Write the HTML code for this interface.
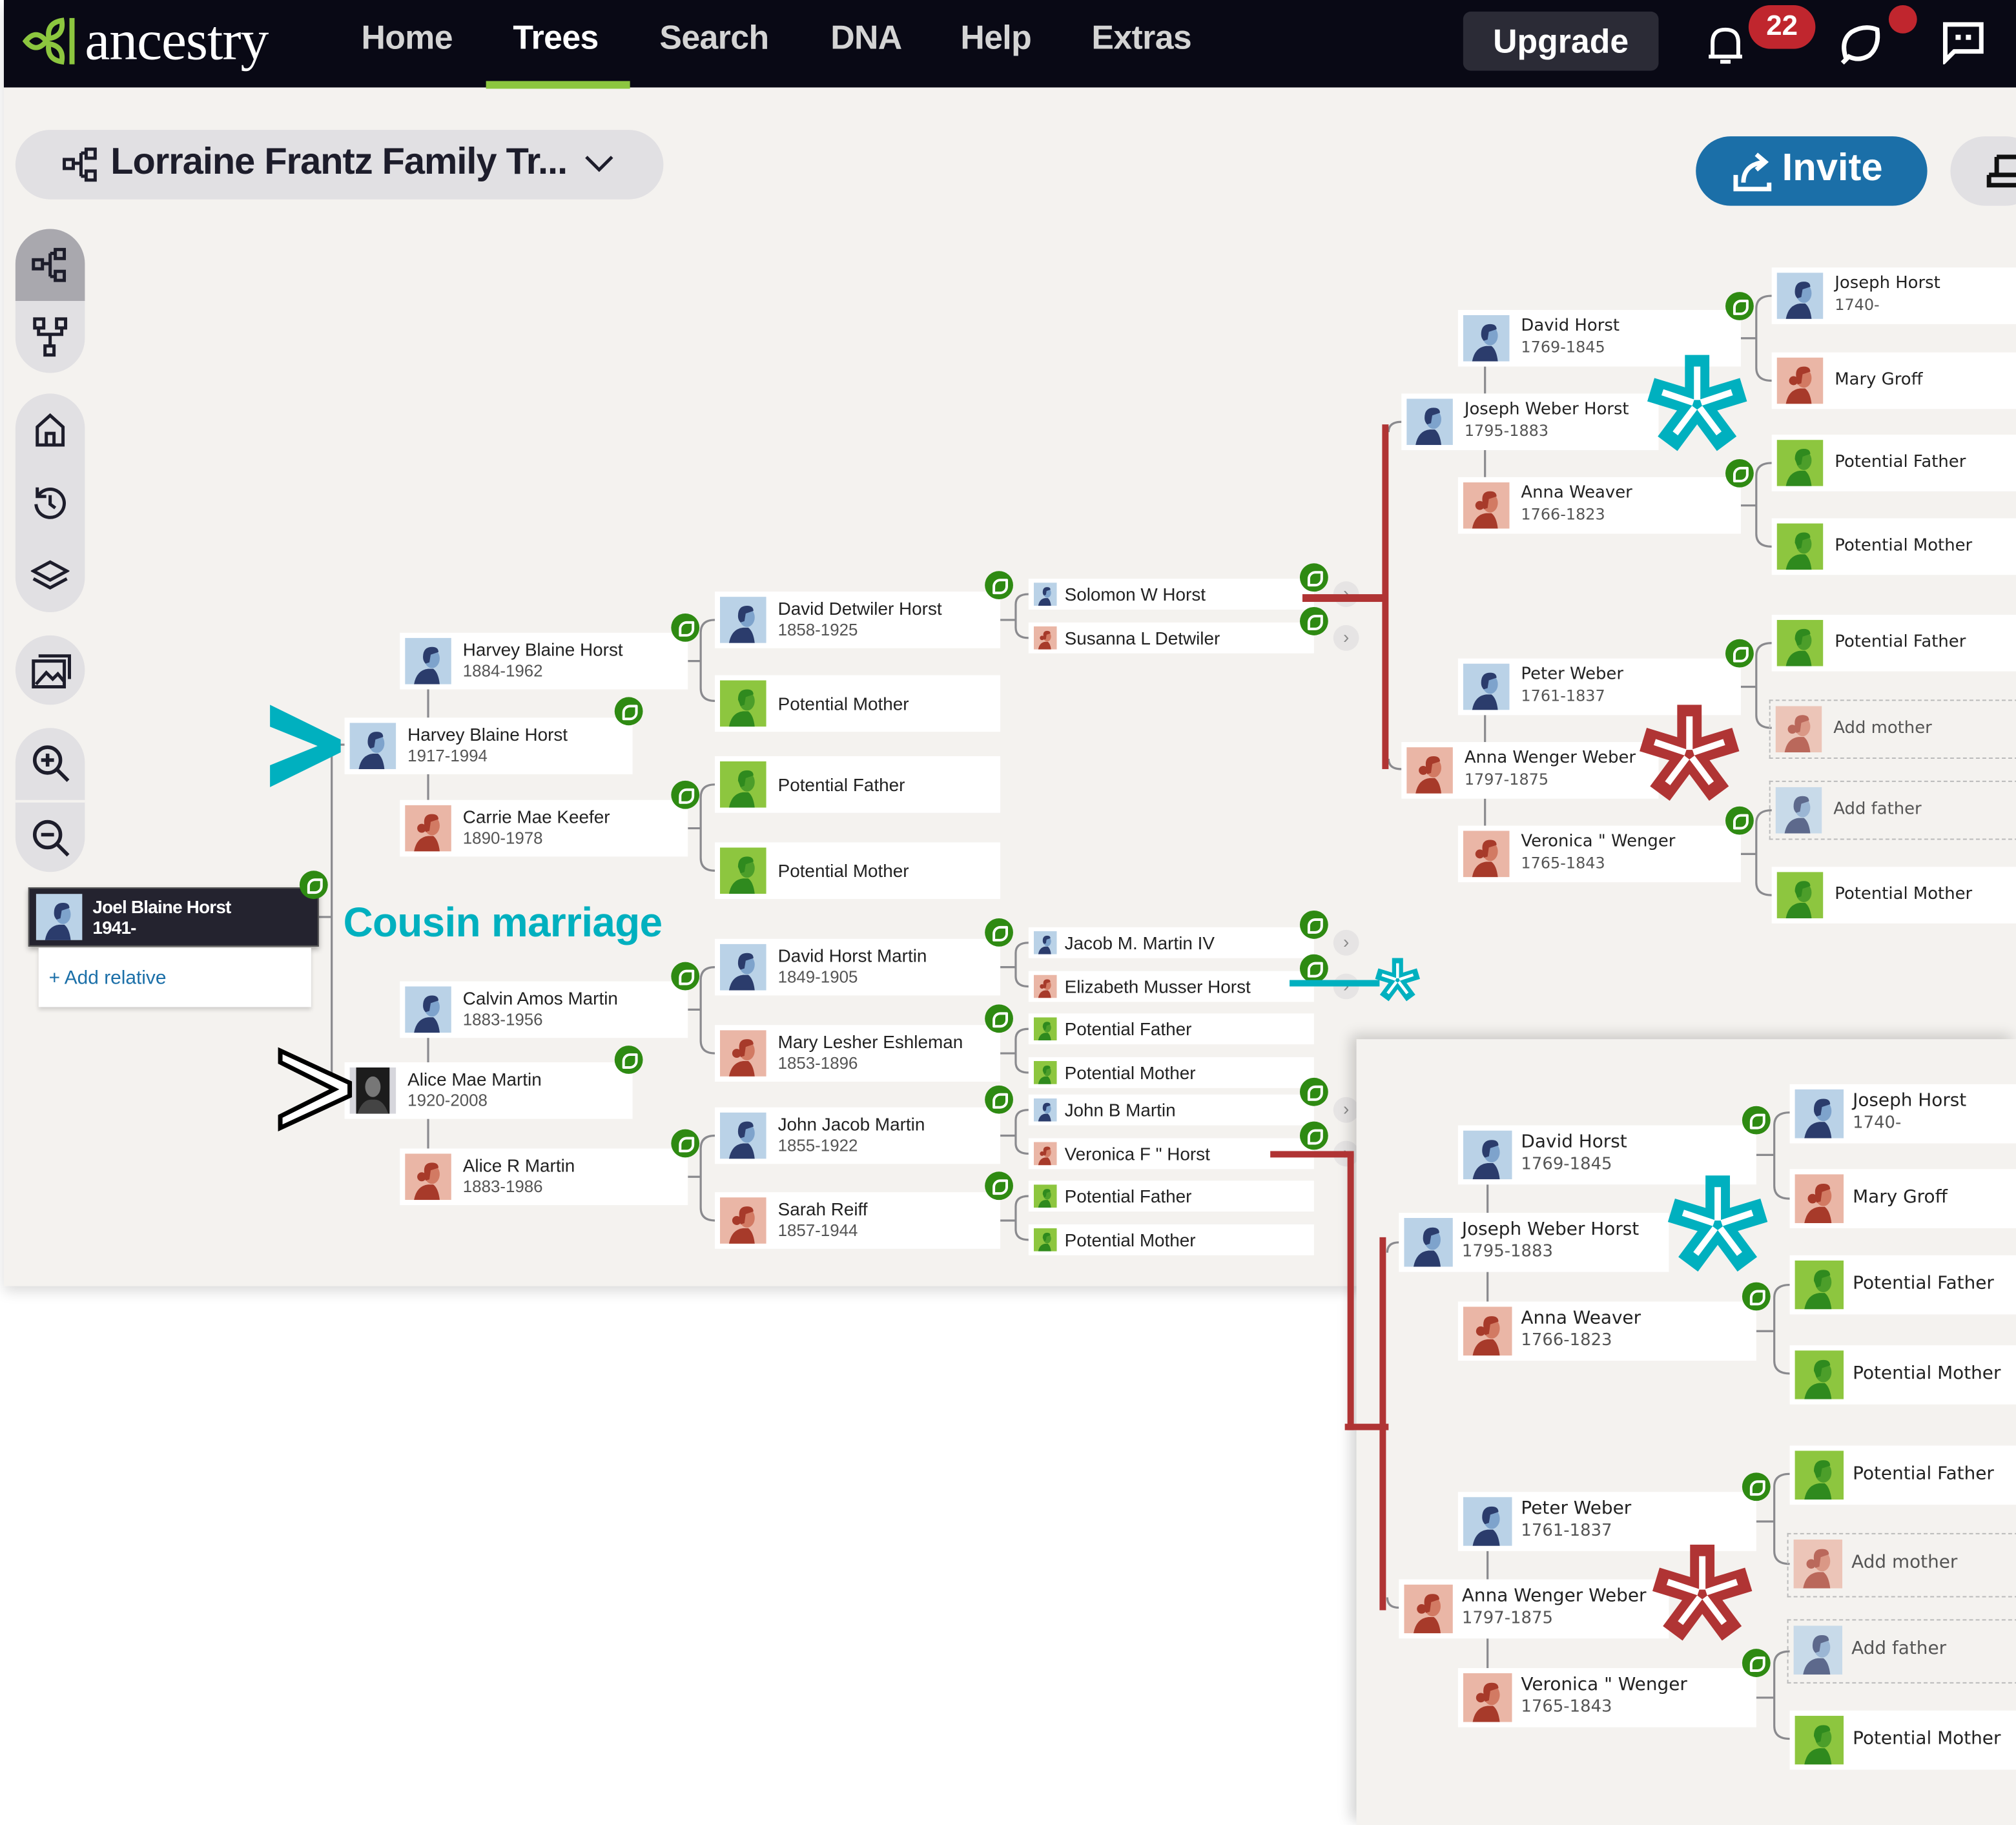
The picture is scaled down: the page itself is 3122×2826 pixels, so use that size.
<!DOCTYPE html>
<html><head><meta charset="utf-8"><style>
*{margin:0;padding:0;box-sizing:border-box}
html,body{width:3122px;height:2826px;overflow:hidden;background:#fff;font-family:"Liberation Sans",sans-serif}
#w{position:absolute;left:0;top:0;width:1568px;height:1419px;transform-origin:0 0;transform:scale(1.99107,1.99154)}
.a{position:absolute}
.n{position:absolute;background:#fff;height:44px;width:222px}
.n svg.av{position:absolute;left:4px;top:4px;width:36px;height:36px}
.n .t{position:absolute;left:49px;top:5px;font-size:14px;line-height:16px;color:#222;white-space:nowrap}
.n .t.one{top:14px}
.n .d{color:#555;font-size:13px}
.s{position:absolute;background:#fff;height:24px;width:222px}
.s svg.av{position:absolute;left:4px;top:3px;width:18px;height:18px}
.s .t{position:absolute;left:28px;top:4px;font-size:14px;line-height:16px;color:#222;white-space:nowrap}
.r .t{font-family:"DejaVu Sans",sans-serif;font-size:13px}
.r .d{font-size:12px}
.q .t{font-family:"DejaVu Sans",sans-serif;font-size:14px;line-height:17px}
.q .d{font-size:13px}
.dash{background:transparent;border:1.5px dashed #bbb}
.dash .t{color:#555}
.g{position:absolute;width:22px;height:22px;border-radius:50%;background:#2e8a12}
.g:after{content:"";position:absolute;left:6px;top:6px;width:8px;height:8px;border:2px solid #fff;border-radius:6px 1px 6px 1px}
.ch{position:absolute;width:20px;height:20px;border-radius:50%;background:#e6e4e4;color:#888;font-size:14px;text-align:center;line-height:19px}
.pill{position:absolute;background:#e1e0e3;border-radius:27px}
.nav{position:absolute;top:14px;font-size:26px;color:#d4d4d4;font-weight:bold;letter-spacing:-.3px}
</style></head><body>
<svg width="0" height="0" style="position:absolute">
<defs>
<symbol id="m" viewBox="0 0 36 36"><rect width="36" height="36" fill="#bad2e7"/><path d="M7 36 Q9 25 18 24 L22 24 Q26 27 27 36Z" fill="#2b3c6c"/><ellipse cx="21" cy="16" rx="6" ry="7.5" fill="#7ea3cc"/><path d="M14 15 Q14 7 21 7 Q26 7 26 11 L20 13 L19 19 L16 20 Q14 18 14 15Z" fill="#2b3c6c"/></symbol>
<symbol id="f" viewBox="0 0 36 36"><rect width="36" height="36" fill="#eab6a6"/><path d="M7 36 Q9 25 18 24 L22 24 Q26 27 27 36Z" fill="#a73a2a"/><ellipse cx="21" cy="16" rx="6" ry="7.5" fill="#d27a63"/><path d="M15 15 Q14 7 21 7 Q26 7 26 11 L20 13 L19 20 L16 21Z" fill="#a73a2a"/><circle cx="13" cy="18" r="3.5" fill="#a73a2a"/></symbol>
<symbol id="p" viewBox="0 0 36 36"><rect width="36" height="36" fill="#8dc63f"/><path d="M7 36 Q9 25 18 24 L22 24 Q26 27 27 36Z" fill="#2f8a1e"/><ellipse cx="21" cy="16" rx="6" ry="7.5" fill="#4c9e2a"/><path d="M14 15 Q14 7 21 7 Q26 7 26 11 L20 13 L19 19 L16 20Z" fill="#2f8a1e"/></symbol>
<symbol id="ast" viewBox="-40 -40 80 80"><g stroke="currentColor" stroke-width="19"><line x1="0" y1="0" x2="0" y2="-38"/><line x1="0" y1="0" x2="36" y2="-11"/><line x1="0" y1="0" x2="23" y2="31"/><line x1="0" y1="0" x2="-23" y2="31"/><line x1="0" y1="0" x2="-36" y2="-11"/></g><g stroke="#fff" stroke-width="5"><line x1="0" y1="-3" x2="0" y2="-29"/><line x1="3" y1="-1" x2="27" y2="-9"/><line x1="2" y1="3" x2="17" y2="23"/><line x1="-2" y1="3" x2="-17" y2="23"/><line x1="-3" y1="-1" x2="-27" y2="-9"/></g></symbol>
</defs></svg>
<div id="w">
<div class="a" style="left:3px;top:0;width:1565px;height:1000px;background:#f4f2ef;box-shadow:0 4px 10px rgba(0,0,0,.15)"></div>
<div class="a" style="left:3px;top:0;width:1565px;height:68px;background:#090915"></div>
<svg class="a" style="left:16px;top:12px" width="46" height="40" viewBox="0 0 46 40"><g fill="none" stroke="#8cc63f" stroke-width="4"><path d="M4 20 Q12 10 20 20 Q12 30 4 20Z"/><path d="M22 18 Q20 6 32 4 Q34 16 22 18Z"/><path d="M22 22 Q20 34 32 36 Q34 24 22 22Z"/></g><rect x="38" y="2" width="4" height="36" fill="#8cc63f"/></svg>
<div class="a" style="left:66px;top:6px;font-family:'Liberation Serif',serif;font-size:44px;color:#fff;letter-spacing:-.5px">ancestry</div>
<div class="nav" style="left:281px">Home</div>
<div class="nav" style="left:399px;color:#fff">Trees</div>
<div class="nav" style="left:513px">Search</div>
<div class="nav" style="left:646px">DNA</div>
<div class="nav" style="left:747px">Help</div>
<div class="nav" style="left:849px">Extras</div>
<div class="a" style="left:378px;top:63px;width:112px;height:6px;background:#8cc63f"></div>
<div class="a" style="left:1138px;top:9px;width:152px;height:46px;background:#2b2b36;border-radius:6px;color:#fff;font-size:26px;font-weight:bold;text-align:center;line-height:46px">Upgrade</div>
<svg class="a" style="left:1326px;top:18px" width="32" height="34" viewBox="0 0 32 34"><path d="M6 26 L6 15 Q6 5 16 5 Q26 5 26 15 L26 26 Z M3 26 H29 M12 30 H20" fill="none" stroke="#fff" stroke-width="3"/></svg>
<div class="a" style="left:1360px;top:4px;width:52px;height:34px;background:#c0262e;border-radius:17px;color:#fff;font-size:22px;font-weight:bold;text-align:center;line-height:32px">22</div>
<svg class="a" style="left:1428px;top:16px" width="36" height="36" viewBox="0 0 36 36"><path d="M8 30 Q3 16 12 9 Q22 3 32 7 Q34 20 26 27 Q18 32 10 28 L5 33" fill="none" stroke="#fff" stroke-width="3.5"/></svg>
<div class="a" style="left:1469px;top:4px;width:22px;height:22px;border-radius:50%;background:#c0262e"></div>
<svg class="a" style="left:1510px;top:16px" width="34" height="34" viewBox="0 0 34 34"><path d="M3 3 H31 V24 H10 L3 31 Z" fill="none" stroke="#fff" stroke-width="3.5"/><rect x="11" y="11" width="4" height="4" fill="#fff"/><rect x="19" y="11" width="4" height="4" fill="#fff"/></svg>
<div class="pill" style="left:12px;top:101px;width:504px;height:54px"></div>
<svg class="a" style="left:48px;top:114px" width="30" height="28" viewBox="0 0 30 28"><g fill="none" stroke="#1d1d2b" stroke-width="2.5"><rect x="2" y="10" width="7" height="7"/><rect x="19" y="2" width="7" height="7"/><rect x="19" y="19" width="7" height="7"/><path d="M9 13 H15 M15 5 V23 M15 5 H19 M15 23 H19"/></g></svg>
<div class="a" style="left:86px;top:110px;font-size:29px;color:#1d1d2b;font-weight:bold;letter-spacing:-.5px">Lorraine Frantz Family Tr...</div>
<svg class="a" style="left:454px;top:118px" width="24" height="18" viewBox="0 0 24 18"><path d="M2 4 L12 14 L22 4" fill="none" stroke="#1d1d2b" stroke-width="2.5"/></svg>
<div class="a" style="left:1319px;top:106px;width:180px;height:54px;background:#1b6fa8;border-radius:27px"></div>
<svg class="a" style="left:1346px;top:116px" width="36" height="34" viewBox="0 0 36 34"><path d="M4 20 V31 H30 V26 M10 26 Q10 12 26 10 M20 4 L27 10 L20 16" fill="none" stroke="#fff" stroke-width="3.5"/></svg>
<div class="a" style="left:1386px;top:114px;font-size:30px;color:#fff;font-weight:bold">Invite</div>
<div class="pill" style="left:1517px;top:106px;width:70px;height:54px"></div>
<svg class="a" style="left:1545px;top:118px" width="23" height="30" viewBox="0 0 23 30"><path d="M8 4 H23 M8 4 V18 M2 18 H23 M2 18 V26 H23" fill="none" stroke="#111" stroke-width="3.5"/></svg>
<div class="pill" style="left:12px;top:178px;width:54px;height:112px"></div>
<div class="a" style="left:12px;top:178px;width:54px;height:56px;background:#a9a8ae;border-radius:27px 27px 0 0"></div>
<svg class="a" style="left:24px;top:192px" width="30" height="28" viewBox="0 0 30 28"><g fill="none" stroke="#1d1d2b" stroke-width="2.5"><rect x="2" y="10" width="7" height="7"/><rect x="19" y="2" width="7" height="7"/><rect x="19" y="19" width="7" height="7"/><path d="M9 13 H15 M15 5 V23 M15 5 H19 M15 23 H19"/></g></svg>
<svg class="a" style="left:25px;top:246px" width="28" height="32" viewBox="0 0 28 32"><g fill="none" stroke="#1d1d2b" stroke-width="2.5"><rect x="2" y="2" width="7" height="7"/><rect x="19" y="2" width="7" height="7"/><rect x="10" y="23" width="7" height="7"/><path d="M5 9 V14 H23 V9 M14 14 V23"/></g></svg>
<div class="pill" style="left:12px;top:306px;width:54px;height:170px"></div>
<svg class="a" style="left:26px;top:320px" width="26" height="28" viewBox="0 0 26 28"><path d="M3 12 L13 3 L23 12 V26 H3 Z M10 26 V17 H16 V26" fill="none" stroke="#1d1d2b" stroke-width="2.5"/></svg>
<svg class="a" style="left:24px;top:376px" width="30" height="30" viewBox="0 0 30 30"><path d="M6 9 A11 11 0 1 1 4 16 M5 3 V10 H12 M15 9 V16 L19 19" fill="none" stroke="#1d1d2b" stroke-width="2.5"/></svg>
<svg class="a" style="left:24px;top:434px" width="30" height="26" viewBox="0 0 30 26"><path d="M15 3 L28 10 L15 17 L2 10 Z M2 16 L15 23 L28 16" fill="none" stroke="#1d1d2b" stroke-width="2.5"/></svg>
<div class="pill" style="left:12px;top:494px;width:54px;height:54px"></div>
<svg class="a" style="left:24px;top:508px" width="32" height="28" viewBox="0 0 32 28"><path d="M6 2 H30 V20 M2 6 H26 V26 H2 Z M4 24 L12 15 L17 20 L21 16 L26 22" fill="none" stroke="#1d1d2b" stroke-width="2.5"/></svg>
<div class="pill" style="left:12px;top:566px;width:54px;height:112px"></div>
<div class="a" style="left:12px;top:622px;width:54px;height:2px;background:#f4f2ef"></div>
<svg class="a" style="left:24px;top:578px" width="32" height="32" viewBox="0 0 32 32"><g fill="none" stroke="#1d1d2b" stroke-width="2.8"><circle cx="13" cy="13" r="10"/><path d="M20 20 L29 29 M8 13 H18 M13 8 V18"/></g></svg>
<svg class="a" style="left:24px;top:636px" width="32" height="32" viewBox="0 0 32 32"><g fill="none" stroke="#1d1d2b" stroke-width="2.8"><circle cx="13" cy="13" r="10"/><path d="M20 20 L29 29 M8 13 H18"/></g></svg>

<svg class="a" style="left:0;top:0" width="1568" height="1419" viewBox="0 0 1568 1419"><g fill="none" stroke="#8a8a8e" stroke-width="1.6">
<path d="M248 713 H258 M258 579 V848 M258 579 H268 M258 848 H268"/>
<path d="M333 536 V558 M333 600 V622 M333 806 V826 M333 870 V893"/>
<path d="M535 514 H545 M556 482 Q545 482 545 492 V535 Q545 545 556 545"/>
<path d="M535 644 H545 M556 610 Q545 610 545 620 V667 Q545 677 556 677"/>
<path d="M535 785 H545 M556 752 Q545 752 545 762 V809 Q545 819 556 819"/>
<path d="M535 915 H545 M556 883 Q545 883 545 893 V939 Q545 949 556 949"/>
<path d="M778 482 H790 M800 462 Q790 462 790 470 V488 Q790 496 800 496"/>
<path d="M778 752 H790 M800 733 Q790 733 790 741 V759 Q790 767 800 767"/>
<path d="M778 819 H790 M800 800 Q790 800 790 808 V826 Q790 834 800 834"/>
<path d="M778 883 H790 M800 863 Q790 863 790 871 V889 Q790 897 800 897"/>
<path d="M778 949 H790 M800 930 Q790 930 790 938 V956 Q790 964 800 964"/>
<path d="M1155 285 V306 M1155 350 V371 M1155 556 V577 M1155 621 V642"/>
<path d="M1354 263 H1366 M1378 230 Q1366 230 1366 240 V286 Q1366 296 1378 296"/>
<path d="M1354 393 H1366 M1378 360 Q1366 360 1366 370 V415 Q1366 425 1378 425"/>
<path d="M1354 534 H1366 M1378 500 Q1366 500 1366 510 V556 Q1366 566 1378 566"/>
<path d="M1354 664 H1366 M1378 630 Q1366 630 1366 640 V686 Q1366 696 1378 696"/>
<path d="M1090 328 Q1080 328 1080 336 M1090 598 Q1080 598 1080 590"/>
</g></svg>

<div class="a" style="left:22px;top:690px;width:226px;height:46px;background:#24232f;border:1px solid #555;box-shadow:0 2px 4px rgba(0,0,0,.3)"></div>
<svg class="a" style="left:28px;top:695px" width="36" height="36"><use href="#m"/></svg>
<div class="a" style="left:72px;top:697px;font-size:14px;line-height:16px;color:#fff;font-weight:bold;letter-spacing:-.4px">Joel Blaine Horst<br>1941-</div>
<div class="a" style="left:30px;top:737px;width:212px;height:46px;background:#fff;box-shadow:0 2px 3px rgba(0,0,0,.15)"></div>
<div class="a" style="left:38px;top:752px;font-size:15px;color:#1b6fa8">+ Add relative</div>

<div class="n" style="left:268px;top:558px;width:224px"><svg class="av"><use href="#m"/></svg><div class="t">Harvey Blaine Horst<br><span class="d">1917-1994</span></div></div>
<div class="n" style="left:268px;top:826px;width:224px"><svg class="av" viewBox="0 0 36 36"><rect width="36" height="36" fill="#d6d6dc"/><rect x="5" y="0" width="26" height="36" fill="#1c1c1c"/><ellipse cx="18" cy="15" rx="6" ry="8" fill="#777"/><path d="M6 36 Q10 24 18 25 Q26 24 30 36Z" fill="#444"/></svg><div class="t">Alice Mae Martin<br><span class="d">1920-2008</span></div></div>
<div class="n" style="left:311px;top:492px;width:224px"><svg class="av"><use href="#m"/></svg><div class="t">Harvey Blaine Horst<br><span class="d">1884-1962</span></div></div>
<div class="n" style="left:311px;top:622px;width:224px"><svg class="av"><use href="#f"/></svg><div class="t">Carrie Mae Keefer<br><span class="d">1890-1978</span></div></div>
<div class="n" style="left:311px;top:763px;width:224px"><svg class="av"><use href="#m"/></svg><div class="t">Calvin Amos Martin<br><span class="d">1883-1956</span></div></div>
<div class="n" style="left:311px;top:893px;width:224px"><svg class="av"><use href="#f"/></svg><div class="t">Alice R Martin<br><span class="d">1883-1986</span></div></div>
<div class="n" style="left:556px;top:460px"><svg class="av"><use href="#m"/></svg><div class="t">David Detwiler Horst<br><span class="d">1858-1925</span></div></div>
<div class="n" style="left:556px;top:525px"><svg class="av"><use href="#p"/></svg><div class="t one">Potential Mother</div></div>
<div class="n" style="left:556px;top:588px"><svg class="av"><use href="#p"/></svg><div class="t one">Potential Father</div></div>
<div class="n" style="left:556px;top:655px"><svg class="av"><use href="#p"/></svg><div class="t one">Potential Mother</div></div>
<div class="n" style="left:556px;top:730px"><svg class="av"><use href="#m"/></svg><div class="t">David Horst Martin<br><span class="d">1849-1905</span></div></div>
<div class="n" style="left:556px;top:797px"><svg class="av"><use href="#f"/></svg><div class="t">Mary Lesher Eshleman<br><span class="d">1853-1896</span></div></div>
<div class="n" style="left:556px;top:861px"><svg class="av"><use href="#m"/></svg><div class="t">John Jacob Martin<br><span class="d">1855-1922</span></div></div>
<div class="n" style="left:556px;top:927px"><svg class="av"><use href="#f"/></svg><div class="t">Sarah Reiff<br><span class="d">1857-1944</span></div></div>
<div class="s" style="left:800px;top:450px"><svg class="av"><use href="#m"/></svg><div class="t">Solomon W Horst</div></div>
<div class="s" style="left:800px;top:484px"><svg class="av"><use href="#f"/></svg><div class="t">Susanna L Detwiler</div></div>
<div class="s" style="left:800px;top:721px"><svg class="av"><use href="#m"/></svg><div class="t">Jacob M. Martin IV</div></div>
<div class="s" style="left:800px;top:755px"><svg class="av"><use href="#f"/></svg><div class="t">Elizabeth Musser Horst</div></div>
<div class="s" style="left:800px;top:788px"><svg class="av"><use href="#p"/></svg><div class="t">Potential Father</div></div>
<div class="s" style="left:800px;top:822px"><svg class="av"><use href="#p"/></svg><div class="t">Potential Mother</div></div>
<div class="s" style="left:800px;top:851px"><svg class="av"><use href="#m"/></svg><div class="t">John B Martin</div></div>
<div class="s" style="left:800px;top:885px"><svg class="av"><use href="#f"/></svg><div class="t">Veronica F " Horst</div></div>
<div class="s" style="left:800px;top:918px"><svg class="av"><use href="#p"/></svg><div class="t">Potential Father</div></div>
<div class="s" style="left:800px;top:952px"><svg class="av"><use href="#p"/></svg><div class="t">Potential Mother</div></div>
<div class="ch" style="left:1037px;top:452px">›</div>
<div class="ch" style="left:1037px;top:486px">›</div>
<div class="ch" style="left:1037px;top:723px">›</div>
<div class="ch" style="left:1037px;top:757px">›</div>
<div class="ch" style="left:1037px;top:853px">›</div>
<div class="ch" style="left:1037px;top:887px">›</div>

<div class="n r" style="left:1134px;top:241px;width:220px"><svg class="av"><use href="#m"/></svg><div class="t">David Horst<br><span class="d">1769-1845</span></div></div>
<div class="n r" style="left:1090px;top:306px;width:200px"><svg class="av"><use href="#m"/></svg><div class="t">Joseph Weber Horst<br><span class="d">1795-1883</span></div></div>
<div class="n r" style="left:1134px;top:371px;width:220px"><svg class="av"><use href="#f"/></svg><div class="t">Anna Weaver<br><span class="d">1766-1823</span></div></div>
<div class="n r" style="left:1134px;top:512px;width:220px"><svg class="av"><use href="#m"/></svg><div class="t">Peter Weber<br><span class="d">1761-1837</span></div></div>
<div class="n r" style="left:1090px;top:577px;width:200px"><svg class="av"><use href="#f"/></svg><div class="t">Anna Wenger Weber<br><span class="d">1797-1875</span></div></div>
<div class="n r" style="left:1134px;top:642px;width:220px"><svg class="av"><use href="#f"/></svg><div class="t">Veronica " Wenger<br><span class="d">1765-1843</span></div></div>
<div class="n r" style="left:1378px;top:208px;width:190px"><svg class="av"><use href="#m"/></svg><div class="t">Joseph Horst<br><span class="d">1740-</span></div></div>
<div class="n r" style="left:1378px;top:274px;width:190px"><svg class="av"><use href="#f"/></svg><div class="t one">Mary Groff</div></div>
<div class="n r" style="left:1378px;top:338px;width:190px"><svg class="av"><use href="#p"/></svg><div class="t one">Potential Father</div></div>
<div class="n r" style="left:1378px;top:403px;width:190px"><svg class="av"><use href="#p"/></svg><div class="t one">Potential Mother</div></div>
<div class="n r" style="left:1378px;top:478px;width:190px"><svg class="av"><use href="#p"/></svg><div class="t one">Potential Father</div></div>
<div class="n r dash" style="left:1376px;top:544px;width:194px;height:46px"><svg class="av" style="opacity:.75"><use href="#f"/></svg><div class="t one">Add mother</div></div>
<div class="n r dash" style="left:1376px;top:607px;width:194px;height:46px"><svg class="av" style="opacity:.75"><use href="#m"/></svg><div class="t one">Add father</div></div>
<div class="n r" style="left:1378px;top:674px;width:190px"><svg class="av"><use href="#p"/></svg><div class="t one">Potential Mother</div></div>

<div class="g" style="left:233px;top:677px"></div>
<div class="g" style="left:478px;top:542px"></div>
<div class="g" style="left:522px;top:477px"></div>
<div class="g" style="left:522px;top:607px"></div>
<div class="g" style="left:522px;top:748px"></div>
<div class="g" style="left:478px;top:813px"></div>
<div class="g" style="left:522px;top:878px"></div>
<div class="g" style="left:766px;top:444px"></div>
<div class="g" style="left:766px;top:714px"></div>
<div class="g" style="left:766px;top:781px"></div>
<div class="g" style="left:766px;top:844px"></div>
<div class="g" style="left:766px;top:911px"></div>
<div class="g" style="left:1011px;top:438px"></div>
<div class="g" style="left:1011px;top:472px"></div>
<div class="g" style="left:1011px;top:708px"></div>
<div class="g" style="left:1011px;top:742px"></div>
<div class="g" style="left:1011px;top:838px"></div>
<div class="g" style="left:1011px;top:872px"></div>
<div class="g" style="left:1342px;top:227px"></div>
<div class="g" style="left:1342px;top:357px"></div>
<div class="g" style="left:1342px;top:497px"></div>
<div class="g" style="left:1342px;top:627px"></div>

<div class="a" style="left:1013px;top:462px;width:66px;height:6px;background:#b03434"></div>
<div class="a" style="left:1075px;top:330px;width:5px;height:268px;background:#b03434"></div>
<div class="a" style="left:1003px;top:762px;width:70px;height:5px;background:#00b0bf"></div>
<svg class="a" style="left:1069px;top:744px;color:#00b0bf" width="36" height="36"><use href="#ast"/></svg>
<svg class="a" style="left:1280px;top:274px;color:#00b0bf" width="80" height="80"><use href="#ast"/></svg>
<svg class="a" style="left:1274px;top:546px;color:#b03434" width="80" height="80"><use href="#ast"/></svg>
<div class="a" style="left:267px;top:699px;font-size:32px;font-weight:bold;color:#00b0bf;letter-spacing:-.3px">Cousin marriage</div>
<svg class="a" style="left:205px;top:545px" width="65" height="70" viewBox="0 0 65 70"><polygon points="5,3 60,30 60,40 5,67 5,50 42,35 5,20" fill="#00b0bf"/></svg>
<svg class="a" style="left:214px;top:814px" width="62" height="66" viewBox="0 0 62 66"><polygon points="4,3 58,28 58,38 4,63 4,54 46,33 4,12" fill="#fff" stroke="#000" stroke-width="3.5"/></svg>

<div class="a" style="left:1055px;top:808px;width:513px;height:611px;background:#f4f2ef;box-shadow:-4px -3px 10px rgba(0,0,0,.18)"></div>
<svg class="a" style="left:0;top:0" width="1568" height="1419" viewBox="0 0 1568 1419"><g fill="none" stroke="#8a8a8e" stroke-width="1.6">
<path d="M1157 921 V943 M1157 989 V1012 M1157 1206 V1228 M1157 1274 V1297"/>
<path d="M1366 898 H1380 M1392 865 Q1380 865 1380 875 V922 Q1380 932 1392 932"/>
<path d="M1366 1035 H1380 M1392 999 Q1380 999 1380 1009 V1058 Q1380 1068 1392 1068"/>
<path d="M1366 1183 H1380 M1392 1146 Q1380 1146 1380 1156 V1206 Q1380 1216 1392 1216"/>
<path d="M1366 1320 H1380 M1392 1284 Q1380 1284 1380 1294 V1342 Q1380 1352 1392 1352"/>
<path d="M1088 966 Q1079 966 1079 974 M1088 1250 Q1079 1250 1079 1242"/>
</g></svg>
<div class="n q" style="left:1134px;top:875px;width:232px;height:46px"><svg class="av" style="width:38px;height:38px"><use href="#m"/></svg><div class="t">David Horst<br><span class="d">1769-1845</span></div></div>
<div class="n q" style="left:1088px;top:943px;width:210px;height:46px"><svg class="av" style="width:38px;height:38px"><use href="#m"/></svg><div class="t">Joseph Weber Horst<br><span class="d">1795-1883</span></div></div>
<div class="n q" style="left:1134px;top:1012px;width:232px;height:46px"><svg class="av" style="width:38px;height:38px"><use href="#f"/></svg><div class="t">Anna Weaver<br><span class="d">1766-1823</span></div></div>
<div class="n q" style="left:1134px;top:1160px;width:232px;height:46px"><svg class="av" style="width:38px;height:38px"><use href="#m"/></svg><div class="t">Peter Weber<br><span class="d">1761-1837</span></div></div>
<div class="n q" style="left:1088px;top:1228px;width:210px;height:46px"><svg class="av" style="width:38px;height:38px"><use href="#f"/></svg><div class="t">Anna Wenger Weber<br><span class="d">1797-1875</span></div></div>
<div class="n q" style="left:1134px;top:1297px;width:232px;height:46px"><svg class="av" style="width:38px;height:38px"><use href="#f"/></svg><div class="t">Veronica " Wenger<br><span class="d">1765-1843</span></div></div>
<div class="n q" style="left:1392px;top:843px;width:176px;height:46px"><svg class="av" style="width:38px;height:38px"><use href="#m"/></svg><div class="t">Joseph Horst<br><span class="d">1740-</span></div></div>
<div class="n q" style="left:1392px;top:909px;width:176px;height:46px"><svg class="av" style="width:38px;height:38px"><use href="#f"/></svg><div class="t one">Mary Groff</div></div>
<div class="n q" style="left:1392px;top:976px;width:176px;height:46px"><svg class="av" style="width:38px;height:38px"><use href="#p"/></svg><div class="t one">Potential Father</div></div>
<div class="n q" style="left:1392px;top:1046px;width:176px;height:46px"><svg class="av" style="width:38px;height:38px"><use href="#p"/></svg><div class="t one">Potential Mother</div></div>
<div class="n q" style="left:1392px;top:1124px;width:176px;height:46px"><svg class="av" style="width:38px;height:38px"><use href="#p"/></svg><div class="t one">Potential Father</div></div>
<div class="n q dash" style="left:1390px;top:1192px;width:180px;height:50px"><svg class="av" style="width:38px;height:38px;opacity:.75"><use href="#f"/></svg><div class="t one">Add mother</div></div>
<div class="n q dash" style="left:1390px;top:1259px;width:180px;height:50px"><svg class="av" style="width:38px;height:38px;opacity:.75"><use href="#m"/></svg><div class="t one">Add father</div></div>
<div class="n q" style="left:1392px;top:1330px;width:176px;height:46px"><svg class="av" style="width:38px;height:38px"><use href="#p"/></svg><div class="t one">Potential Mother</div></div>
<div class="g" style="left:1355px;top:860px"></div>
<div class="g" style="left:1355px;top:997px"></div>
<div class="g" style="left:1355px;top:1145px"></div>
<div class="g" style="left:1355px;top:1282px"></div>
<div class="a" style="left:988px;top:895px;width:65px;height:5px;background:#b03434"></div>
<div class="a" style="left:1048px;top:897px;width:5px;height:215px;background:#b03434"></div>
<div class="a" style="left:1046px;top:1107px;width:34px;height:5px;background:#b03434"></div>
<div class="a" style="left:1073px;top:962px;width:5px;height:290px;background:#b03434"></div>
<svg class="a" style="left:1296px;top:912px;color:#00b0bf" width="80" height="80"><use href="#ast"/></svg>
<svg class="a" style="left:1284px;top:1199px;color:#b03434" width="80" height="80"><use href="#ast"/></svg>
</div>
</body></html>
